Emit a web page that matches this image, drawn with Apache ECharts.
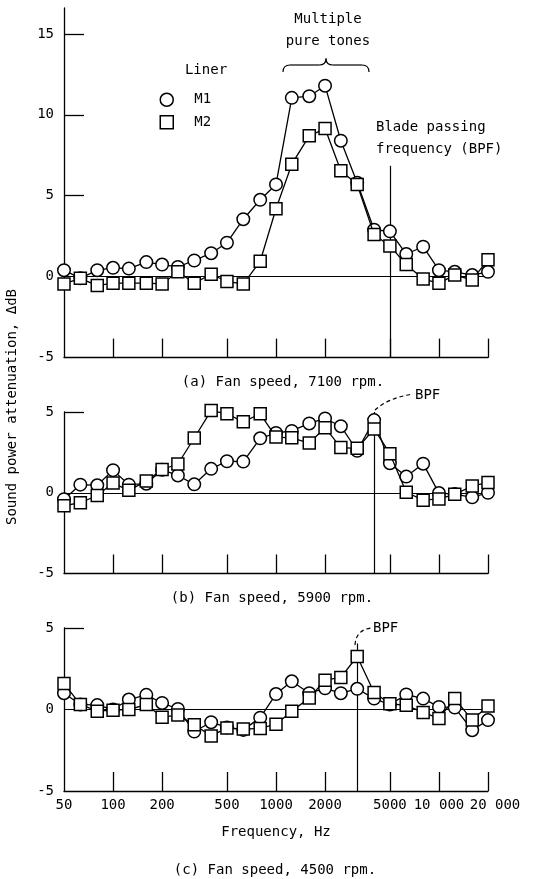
<!DOCTYPE html>
<html>
<head>
<meta charset="utf-8">
<script src="https://cdn.jsdelivr.net/npm/echarts@6/dist/echarts.min.js"></script>
<style>
html,body{margin:0;padding:0;background:#fff;}
#c{width:536px;height:879px;}
</style>
</head>
<body>
<div id="c"></div>
<script>
// ---- data ----
var freqs = [50,63,80,100,125,160,200,250,315,400,500,630,800,1000,1250,1600,2000,2500,3150,4000,5000,6300,8000,10000,12500,16000,20000];

// (a) Fan speed 7100 rpm
var a_M1 = [0.4,-0.1,0.4,0.55,0.5,0.9,0.75,0.6,1.0,1.45,2.1,3.55,4.75,5.7,11.05,11.15,11.8,8.4,5.8,2.9,2.8,1.4,1.85,0.4,0.3,0.1,0.3];
var a_M2 = [-0.45,-0.1,-0.55,-0.4,-0.4,-0.4,-0.45,0.3,-0.4,0.15,-0.3,-0.45,0.95,4.2,6.95,8.7,9.15,6.55,5.7,2.6,1.9,0.75,-0.15,-0.4,0.1,-0.2,1.05];
// (b) Fan speed 5900 rpm
var b_M1 = [-0.4,0.5,0.46,1.4,0.5,0.56,1.42,1.07,0.52,1.48,1.95,1.93,3.37,3.7,3.83,4.29,4.6,4.12,2.6,4.5,1.83,1.0,1.8,-0.02,-0.08,-0.28,0.0];
var b_M2 = [-0.8,-0.62,-0.17,0.6,0.15,0.72,1.44,1.78,3.39,5.09,4.89,4.39,4.89,3.45,3.4,3.08,4.03,2.8,2.75,3.95,2.42,0.03,-0.46,-0.38,-0.1,0.42,0.63];
// (c) Fan speed 4500 rpm
var c_M1 = [1.0,0.31,0.27,0.0,0.61,0.9,0.4,0.03,-1.35,-0.78,-1.1,-1.25,-0.5,0.95,1.73,1.0,1.3,1.0,1.27,0.67,0.3,0.92,0.67,0.16,0.12,-1.27,-0.65];
var c_M2 = [1.59,0.31,-0.1,-0.04,0.0,0.3,-0.48,-0.33,-0.94,-1.62,-1.13,-1.2,-1.16,-0.9,-0.1,0.71,1.8,1.97,3.25,1.04,0.35,0.26,-0.18,-0.55,0.67,-0.65,0.22];

// blade passing frequencies and top of the BPF marker line (dB)
var bpfFreq = [5000, 4000, 3150];
var bpfTop = [6.85, 5.0, 4.05];

// ticks
var xTickVals = [100,200,500,1000,2000,5000,10000,20000];
var xLabelVals = [50,100,200,500,1000,2000,5000,10000];
var xLastLabel = [20000];
var yMax = [16.6, 5, 5];
var yLabelVals = [[-5,0,5,10,15],[-5,0,5],[-5,0,5]];
var yTickVals = [[5,10,15],[5],[5]];

var panelTitles = ['(a) Fan speed, 7100 rpm.', '(b) Fan speed, 5900 rpm.', '(c) Fan speed, 4500 rpm.'];
var seriesNames = ['M1','M2'];

// ---- chart ----
var FONT = '"DejaVu Sans Mono", monospace';
var chart = echarts.init(document.getElementById('c'), null, {renderer:'canvas'});

var grids = [
  {left:64, right:48, top:8, height:349.6},
  {left:64, right:48, top:412, height:161.5},
  {left:64, right:48, top:628, height:163}
];

function fmtFreq(v){
  v = Math.round(v);
  if (v >= 10000) { var s = String(v); return s.slice(0, s.length-3) + ' ' + s.slice(-3); }
  return String(v);
}

var xAxes = [], yAxes = [], series = [];
var panelData = [[a_M1,a_M2],[b_M1,b_M2],[c_M1,c_M2]];
for (var i=0;i<3;i++){
  xAxes.push({
    type:'log', logBase:10, min:50, max:20000, gridIndex:i,
    axisLine:{show:true, onZero:false, lineStyle:{color:'#000', width:1.3}},
    axisTick:{show:true, inside:true, length:19, customValues:xTickVals, lineStyle:{color:'#000', width:1.3}},
    axisLabel:{show:i===2, customValues:xLabelVals, formatter:fmtFreq, color:'#000', fontSize:14, fontFamily:FONT, margin:7,
               showMinLabel:true, showMaxLabel:true},
    splitLine:{show:false}, minorTick:{show:false}, minorSplitLine:{show:false},
    name: i===2 ? 'Frequency, Hz' : '',
    nameLocation:'middle', nameGap:34,
    nameTextStyle:{color:'#000', fontSize:14, fontFamily:FONT}
  });
  yAxes.push({
    type:'value', min:-5, max:yMax[i], gridIndex:i,
    axisLine:{show:true, onZero:false, lineStyle:{color:'#000', width:1.3}},
    axisTick:{show:true, inside:true, length:20, customValues:yTickVals[i], lineStyle:{color:'#000', width:1.3}},
    axisLabel:{customValues:yLabelVals[i], color:'#000', fontSize:14, fontFamily:FONT, margin:10},
    splitLine:{show:false}
  });
  for (var s=0;s<2;s++){
    var arr = panelData[i][s];
    var ser = {
      type:'line', name:seriesNames[s], xAxisIndex:i, yAxisIndex:i,
      data: freqs.map(function(f,k){ return [f, arr[k]]; }),
      symbol: s===0 ? 'circle' : 'rect',
      symbolSize: s===0 ? 12.5 : 12,
      showAllSymbol:true,
      clip:false,
      lineStyle:{color:'#000', width:1.3},
      itemStyle:{color:'#fff', borderColor:'#000', borderWidth:1.5},
      emphasis:{disabled:true},
      silent:true,
      z: 2 + s
    };
    if (s===0){
      ser.markLine = {
        silent:true, symbol:'none', z:1,
        label:{show:false},
        lineStyle:{color:'#000', type:'solid', width:1.2},
        emphasis:{disabled:true},
        data:[
          {yAxis:0},
          [{coord:[bpfFreq[i], bpfTop[i]]},{coord:[bpfFreq[i], -5]}]
        ]
      };
    }
    series.push(ser);
  }
}
// extra label-only axis on panel (c) for the last frequency label (avoids overlap hiding)
xAxes.push({
  type:'log', logBase:10, min:50, max:20000, gridIndex:2, position:'bottom',
  axisLine:{show:false}, axisTick:{show:false}, splitLine:{show:false},
  axisLabel:{show:true, customValues:xLastLabel, showMaxLabel:true,
    formatter:function(v){ return '{r|' + fmtFreq(v) + '}'; },
    margin:7, color:'#000', fontSize:14, fontFamily:FONT,
    rich:{r:{color:'#000', fontSize:14, fontFamily:FONT, padding:[0,0,0,14]}}}
});

function txt(x,y,t,align){
  return {type:'text', x:x, y:y, silent:true,
    style:{text:t, fill:'#000', font:'14px '+FONT, textAlign:align||'center', textVerticalAlign:'middle'}};
}
function bez(x1,y1,cx,cy,x2,y2,dash){
  var st = {stroke:'#000', lineWidth:1.2, fill:null};
  if (dash) st.lineDash = [4,3];
  return {type:'bezierCurve', silent:true, shape:{x1:x1,y1:y1,cpx1:cx,cpy1:cy,x2:x2,y2:y2}, style:st};
}
function seg(x1,y1,x2,y2){
  return {type:'line', silent:true, shape:{x1:x1,y1:y1,x2:x2,y2:y2}, style:{stroke:'#000', lineWidth:1.2}};
}

var graphics = [
  txt(328,19.5,'Multiple'),
  txt(328,41,'pure tones'),
  bez(283,72,283,65,290,65),
  seg(290,65,319,65),
  bez(319,65,326,65,326,58.5),
  bez(326,58.5,326,65,333,65),
  seg(333,65,362,65),
  bez(362,65,369,65,369,72),
  txt(206,70,'Liner'),
  txt(376,127.5,'Blade passing','left'),
  txt(376,149.5,'frequency (BPF)','left'),
  txt(283,382,panelTitles[0]),
  txt(272,598,panelTitles[1]),
  txt(275,870,panelTitles[2]),
  bez(375,410,388,398,413,394,true),
  txt(415,395,'BPF','left'),
  bez(355,645,356,630,371,628,true),
  txt(373,628,'BPF','left'),
  {type:'text', x:12, y:407, rotation:Math.PI/2, silent:true,
   style:{text:'Sound power attenuation, \u0394dB', fill:'#000', font:'14px '+FONT, textAlign:'center', textVerticalAlign:'middle'}}
];

chart.setOption({
  animation:false,
  backgroundColor:'#fff',
  grid:grids,
  xAxis:xAxes,
  yAxis:yAxes,
  legend:{
    show:true, orient:'vertical', left:159.5, top:92.5, padding:0,
    itemWidth:13, itemHeight:13, itemGap:8,
    selectedMode:false,
    textStyle:{color:'#000', fontSize:14, fontFamily:FONT, padding:[0,0,0,16]},
    data:[
      {name:'M1', icon:'circle', itemStyle:{color:'#fff', borderColor:'#000', borderWidth:1.5}},
      {name:'M2', icon:'rect', itemStyle:{color:'#fff', borderColor:'#000', borderWidth:1.5}}
    ]
  },
  graphic:graphics,
  series:series
});
</script>
</body>
</html>
